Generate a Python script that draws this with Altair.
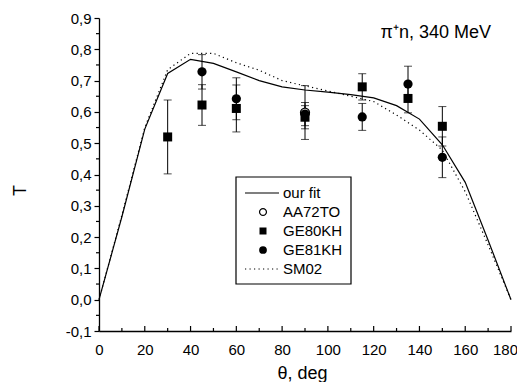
import altair as alt
import pandas as pd

# ---------------- data ----------------
angles = [0, 10, 20, 30, 40, 50, 60, 70, 80, 90, 100, 110, 120, 130, 140, 150, 160, 170, 180]
fit_T = [0.0, 0.265, 0.545, 0.723, 0.768, 0.755, 0.728, 0.700, 0.680, 0.670, 0.663, 0.655,
         0.645, 0.620, 0.577, 0.495, 0.375, 0.190, 0.0]
sm02_T = [0.0, 0.270, 0.550, 0.735, 0.787, 0.787, 0.757, 0.733, 0.700, 0.683, 0.667, 0.650,
          0.633, 0.590, 0.542, 0.478, 0.345, 0.175, 0.0]

aa72_x = [90]
aa72_T = [0.598]
aa72_err = [0.086]

ge80_x = [30, 45, 60, 90, 115, 135, 150]
ge80_T = [0.520, 0.622, 0.611, 0.583, 0.680, 0.643, 0.554]
ge80_err = [0.118, 0.065, 0.075, 0.037, 0.042, 0.046, 0.063]

ge81_x = [45, 60, 90, 115, 135, 150]
ge81_T = [0.728, 0.642, 0.593, 0.584, 0.689, 0.455]
ge81_err = [0.055, 0.067, 0.037, 0.043, 0.057, 0.065]

x_major = [0, 20, 40, 60, 80, 100, 120, 140, 160, 180]
x_minor = [10, 30, 50, 70, 90, 110, 130, 150, 170]
y_major = [-0.1, 0.0, 0.1, 0.2, 0.3, 0.4, 0.5, 0.6, 0.7, 0.8, 0.9]
y_minor = [-0.05, 0.05, 0.15, 0.25, 0.35, 0.45, 0.55, 0.65, 0.75, 0.85]

legend_labels = ["our fit", "AA72TO", "GE80KH", "GE81KH", "SM02"]
title_text = "π⁺n, 340 MeV"

# ---------------- layout ----------------
W, H = 412, 313
FONT = "Liberation Sans"
xs = alt.Scale(domain=[0, 180], nice=False, zero=False)
ys = alt.Scale(domain=[-0.1, 0.9], nice=False, zero=False)

label_expr = "replace(replace(format(datum.value, '.1f'), '.', ','), '\u2212', '-')"

x_axis = alt.Axis(
    values=x_major, tickSize=0, labelFontSize=15, labelPadding=11, labelFont=FONT,
    labelOffset={"condition": {"test": "datum.value == 180", "value": -6}, "value": 0},
    title="θ, deg", titleFont=FONT, titleFontSize=18, titleFontWeight="normal",
    titleX=203, titleY=47, titleBaseline="alphabetic", titleAlign="center",
    grid=False, domainColor="black", domainWidth=1.3, labelColor="black", titleColor="black",
    labelFlush=False)
y_axis = alt.Axis(
    values=y_major, tickSize=5, tickColor="black", tickWidth=1.2, labelFontSize=15,
    labelPadding=3, labelFont=FONT, labelExpr=label_expr,
    title="T", titleFont=FONT, titleFontSize=18, titleFontWeight="normal",
    titleX=-79, titleY=172, titleBaseline="middle", titleAlign="center", titleAngle=-90,
    grid=False, domainColor="black", domainWidth=1.3, labelColor="black", titleColor="black",
    labelFlush=False)


def X(f):
    return alt.X(f, type="quantitative", scale=xs, axis=x_axis)


def Y(f):
    return alt.Y(f, type="quantitative", scale=ys, axis=y_axis)


def series(xv, tv, ev):
    df = pd.DataFrame({"x": xv, "T": tv, "e": ev})
    df["lo"] = df["T"] - df["e"]
    df["hi"] = df["T"] + df["e"]
    return df


aa = series(aa72_x, aa72_T, aa72_err)
g80 = series(ge80_x, ge80_T, ge80_err)
g81 = series(ge81_x, ge81_T, ge81_err)

curves = pd.DataFrame({"x": angles, "fit": fit_T, "sm": sm02_T})

fit_line = alt.Chart(curves).mark_line(stroke="black", strokeWidth=1.2).encode(x=X("x"), y=Y("fit"))
sm_line = alt.Chart(curves).mark_line(stroke="black", strokeWidth=1.2, strokeDash=[1.2, 3.3]).encode(
    x=X("x"), y=Y("sm"))

xmaj = alt.Chart(pd.DataFrame({"v": x_major})).mark_rule(color="black", strokeWidth=1.2).encode(
    x=X("v"), y=alt.value(H), y2=alt.value(H - 5))
xmin = alt.Chart(pd.DataFrame({"v": x_minor})).mark_rule(color="black", strokeWidth=1.2).encode(
    x=X("v"), y=alt.value(H), y2=alt.value(H - 3))
ymin = alt.Chart(pd.DataFrame({"v": y_minor})).mark_rule(color="black", strokeWidth=1.2).encode(
    y=Y("v"), x=alt.value(-3), x2=alt.value(0))


def errbars(df):
    bar = alt.Chart(df).mark_rule(color="black", strokeWidth=1).encode(x=X("x"), y=Y("lo"), y2="hi")
    lo = alt.Chart(df).mark_tick(color="black", orient="horizontal", size=8, thickness=1).encode(
        x=X("x"), y=Y("lo"))
    hi = alt.Chart(df).mark_tick(color="black", orient="horizontal", size=8, thickness=1).encode(
        x=X("x"), y=Y("hi"))
    return [bar, lo, hi]


aa_pts = alt.Chart(aa).mark_point(shape="circle", filled=False, fill="white", fillOpacity=1,
                                  stroke="black", strokeWidth=1.3, size=80, opacity=1).encode(
    x=X("x"), y=Y("T"))
g80_pts = alt.Chart(g80).mark_point(shape="square", filled=True, color="black", size=81, opacity=1).encode(
    x=X("x"), y=Y("T"))
g81_pts = alt.Chart(g81).mark_point(shape="circle", filled=True, color="black", size=85, opacity=1).encode(
    x=X("x"), y=Y("T"))

# ---------------- legend ----------------
leg_rows = [175 + 19 * i for i in range(len(legend_labels))]
leg_df = pd.DataFrame({"label": legend_labels, "py": leg_rows})
one = pd.DataFrame({"a": [0]})
box = alt.Chart(one).mark_rect(fill="white", stroke="black", strokeWidth=1.2).encode(
    x=alt.value(137), x2=alt.value(252), y=alt.value(159), y2=alt.value(266))
leg_text = alt.Chart(leg_df).mark_text(align="left", baseline="middle", fontSize=15, font=FONT,
                                       color="black").encode(
    x=alt.value(184), y=alt.Y("py:Q", scale=None, axis=None), text="label:N")
leg_fit = alt.Chart(one).mark_rule(color="black", strokeWidth=1.2).encode(
    x=alt.value(146), x2=alt.value(180), y=alt.value(leg_rows[0]))
leg_sm = alt.Chart(one).mark_rule(color="black", strokeWidth=1.2, strokeDash=[1.2, 3.3]).encode(
    x=alt.value(146), x2=alt.value(180), y=alt.value(leg_rows[4]))
leg_aa = alt.Chart(one).mark_point(shape="circle", filled=False, stroke="black",
                                   strokeWidth=1.2, size=48, opacity=1).encode(
    x=alt.value(164), y=alt.value(leg_rows[1]))
leg_80 = alt.Chart(one).mark_point(shape="square", filled=True, color="black",
                                   size=49, opacity=1).encode(
    x=alt.value(164), y=alt.value(leg_rows[2]))
leg_81 = alt.Chart(one).mark_point(shape="circle", filled=True, color="black",
                                   size=60, opacity=1).encode(
    x=alt.value(164), y=alt.value(leg_rows[3]))

title = alt.Chart(pd.DataFrame({"t": [title_text]})).mark_text(
    align="right", baseline="alphabetic", fontSize=18, font=FONT, color="black").encode(
    x=alt.value(392), y=alt.value(20), text="t:N")

layers = [fit_line, sm_line, xmaj, xmin, ymin]
layers += errbars(aa) + errbars(g80) + errbars(g81)
layers += [aa_pts, g80_pts, g81_pts, box, leg_text, leg_fit, leg_sm, leg_aa, leg_80, leg_81, title]

chart = alt.layer(*layers).properties(
    width=W, height=H,
    autosize=alt.AutoSizeParams(type="none"),
    padding={"left": 91, "top": 10, "right": 6, "bottom": 51},
    background="white",
).configure_view(stroke=None)

chart.save("out.html", embed_options={"renderer": "svg", "actions": False})
